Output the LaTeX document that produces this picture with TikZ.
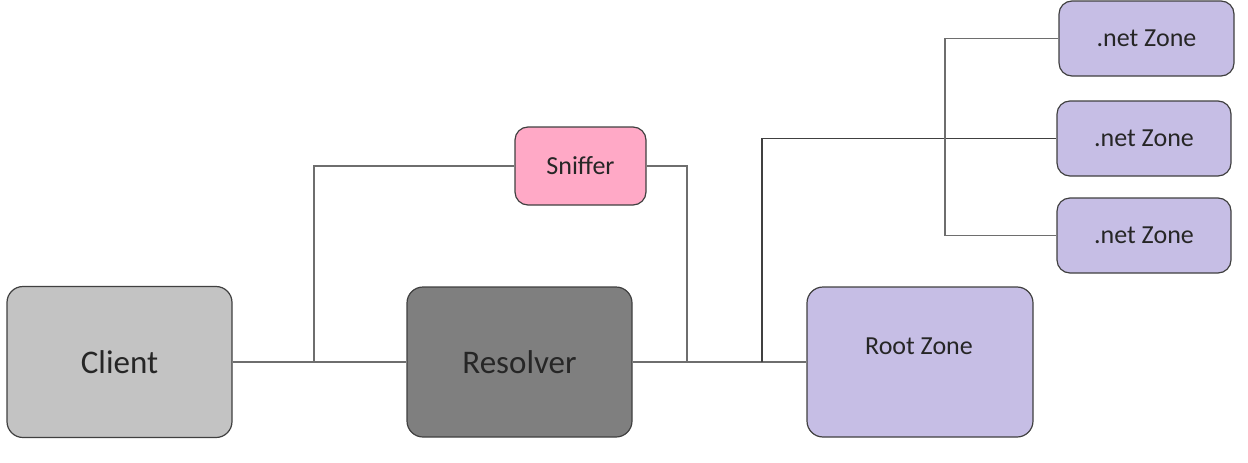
\documentclass[tikz,border=0pt]{standalone}
\usepackage{fontspec}
\setmainfont{Carlito}
\definecolor{clientc}{HTML}{C3C3C3}
\definecolor{resolc}{HTML}{7F7F7F}
\definecolor{sniffc}{HTML}{FFA9C6}
\definecolor{zonec}{HTML}{C6BEE5}
\definecolor{edgec}{HTML}{404040}
\definecolor{wirec}{HTML}{6E6E6E}
\begin{document}
\begin{tikzpicture}[x=1pt,y=-1pt,
  box/.style={draw=edgec,line width=1.2pt,rounded corners=16pt,inner sep=0pt,text=black!85},
  small/.style={box,rounded corners=13pt},
  wire/.style={draw=wirec,line width=1.5pt}]
\useasboundingbox (0,0) rectangle (1248,463);
\node[box,fill=clientc,minimum width=225pt,minimum height=151pt,font=\fontsize{33}{36}\selectfont] (client) at (119.5,362) {Client};
\node[box,fill=resolc,minimum width=225pt,minimum height=150pt,font=\fontsize{33}{36}\selectfont] (resolver) at (519.5,362) {Resolver};
\node[small,fill=sniffc,minimum width=131pt,minimum height=78pt,font=\fontsize{26}{30}\selectfont] (sniffer) at (580.5,166) {Sniffer};
\node[box,fill=zonec,minimum width=226pt,minimum height=150pt] (root) at (920,362) {};
\node[font=\fontsize{26}{30}\selectfont,text=black!85] (rootlbl) at (919,346) {Root Zone};
\node[small,fill=zonec,minimum width=175pt,minimum height=75pt,font=\fontsize{26}{30}\selectfont] (net1) at (1146.5,38.5) {.net Zone};
\node[small,fill=zonec,minimum width=174pt,minimum height=75pt,font=\fontsize{26}{30}\selectfont] (net2) at (1144,138.5) {.net Zone};
\node[small,fill=zonec,minimum width=174pt,minimum height=75pt,font=\fontsize{26}{30}\selectfont] (net3) at (1144,235.5) {.net Zone};
\coordinate (j1) at (314,362);
\coordinate (j2) at (687,362);
\coordinate (j3) at (762,362);
\coordinate (tb) at (945,0);
\draw[wire] (client.east) -- (resolver.west);
\draw[wire] (resolver.east) -- (root.west);
\draw[wire] (j1) |- (sniffer.west);
\draw[wire] (sniffer.east) -| (j2);
\draw[wire,draw=edgec] (j3) |- (net2.west);
\draw[wire] (net1.west) -| (tb |- net3.west) -- (net3.west);
\end{tikzpicture}
\end{document}
